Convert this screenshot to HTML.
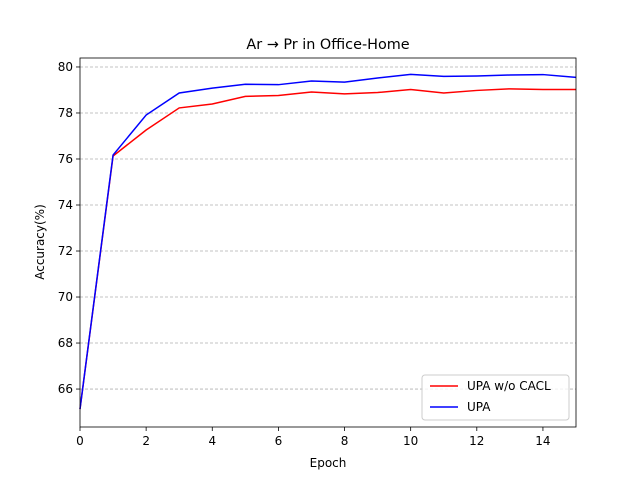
<!DOCTYPE html>
<html><head><meta charset="utf-8"><style>
body{margin:0;background:#fff;}
svg text{font-family:"DejaVu Sans","Liberation Sans",sans-serif;fill:#000;}
</style></head><body>
<svg id="chart" width="640" height="480"></svg>
<script>
const epochs=[0,1,2,3,4,5,6,7,8,9,10,11,12,13,14,15];
const redValues=[65.13,76.13,77.26,78.22,78.39,78.72,78.76,78.91,78.83,78.89,79.02,78.87,78.98,79.05,79.02,79.02];
const blueValues=[65.13,76.17,77.91,78.87,79.08,79.25,79.23,79.39,79.34,79.52,79.68,79.59,79.61,79.65,79.67,79.55];
const xTicks=[0,2,4,6,8,10,12,14];
const yTicks=[66,68,70,72,74,76,78,80];
const L=80,R=576,T=58,B=427;
const xMin=0,xMax=15,yMin=64.35,yMax=80.39;
const sx=v=>L+(v-xMin)/(xMax-xMin)*(R-L);
const sy=v=>B-(v-yMin)/(yMax-yMin)*(B-T);
const NS="http://www.w3.org/2000/svg";
const svg=document.getElementById('chart');
function mk(tag,attrs,parent){const e=document.createElementNS(NS,tag);for(const k in attrs)e.setAttribute(k,attrs[k]);(parent||svg).appendChild(e);return e;}
yTicks.forEach(v=>{
  const g=mk('line',{x1:L,x2:R,y1:sy(v),y2:sy(v),stroke:'#b0b0b0','stroke-width':0.8,'stroke-dasharray':'3,2'});
  
  
  mk('line',{x1:L-4,x2:L,y1:sy(v),y2:sy(v),stroke:'#000','stroke-width':0.8});
  const t=mk('text',{x:L-7,y:sy(v)+4,'text-anchor':'end','font-size':12});t.textContent=v;
  
  
});
xTicks.forEach(v=>{
  mk('line',{x1:sx(v),x2:sx(v),y1:B,y2:B+4,stroke:'#000','stroke-width':0.8});
  const t=mk('text',{x:sx(v),y:B+18,'text-anchor':'middle','font-size':12});t.textContent=v;
  
  
});
function line(vals,color,name){
  const p=mk('polyline',{points:epochs.map((e,i)=>sx(e)+','+sy(vals[i])).join(' '),fill:'none',stroke:color,'stroke-width':1.5});
  
  
}
line(redValues,'#ff0000','series-upa-wo-cacl');
line(blueValues,'#0000ff','series-upa');
const fr=mk('rect',{x:L,y:T,width:R-L,height:B-T,fill:'none',stroke:'#000','stroke-width':0.8});


</script>
<svg style="position:absolute;left:0;top:0" width="640" height="480">
<text x="328" y="49" text-anchor="middle" font-size="14.4">Ar → Pr in Office-Home</text>
<text x="328" y="467" text-anchor="middle" font-size="12">Epoch</text>
<text x="44" y="242" text-anchor="middle" font-size="12" transform="rotate(-90 44 242)">Accuracy(%)</text>
<g>
<rect x="422" y="375" width="147" height="45" rx="3" fill="#fff" fill-opacity="0.8" stroke="#ccc"/>
<line x1="430" x2="458" y1="386" y2="386" stroke="#ff0000" stroke-width="1.5"/>
<text x="467" y="390" font-size="12">UPA w/o CACL</text>
<line x1="430" x2="458" y1="407" y2="407" stroke="#0000ff" stroke-width="1.5"/>
<text x="467" y="411" font-size="12">UPA</text>
</g>
</svg>
</body></html>
